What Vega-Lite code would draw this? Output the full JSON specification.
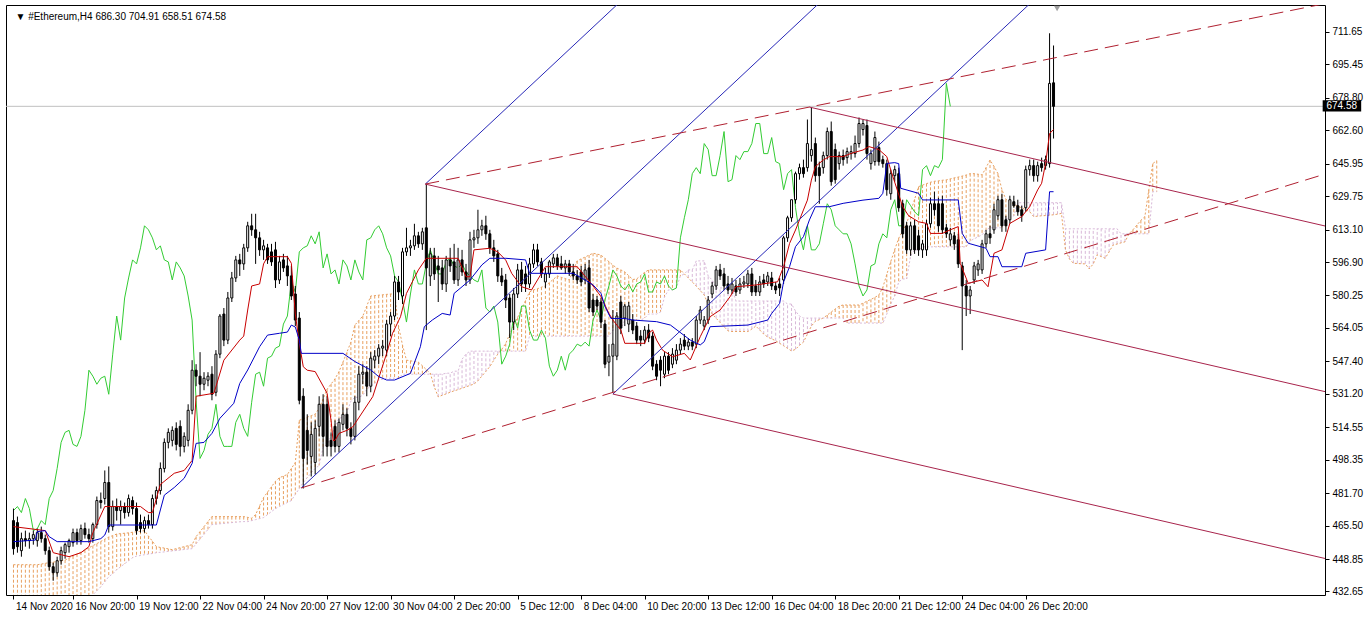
{
"$schema": "https://vega.github.io/schema/vega-lite/v6.json",
"width": 1319, "height": 590, "autosize": "none",
"padding": {"left": 6, "top": 5, "right": 45, "bottom": 27},
"background": "white",
"config": {"view": {"stroke": "#000000", "strokeWidth": 1}, "font": "Liberation Sans",
  "axis": {"labelFont": "Liberation Sans", "labelFontSize": 10, "labelColor": "#000000", "tickColor": "#000000", "domain": false, "grid": false}},
"resolve": {"axis": {"x": "independent", "y": "independent"}},
"datasets": {
"candles": [
{"i":0,"o":468,"h":474,"l":451,"c":454},{"i":1,"o":467,"h":470,"l":452,"c":455},{"i":2,"o":453,"h":462,"l":450,"c":459},{"i":3,"o":459,"h":463,"l":455,"c":458},{"i":4,"o":458,"h":462,"l":454,"c":459},{"i":5,"o":459,"h":463,"l":456,"c":461},{"i":6,"o":458,"h":464,"l":455,"c":462},{"i":7,"o":462,"h":465,"l":457,"c":459},{"i":8,"o":459,"h":461,"l":451,"c":453},{"i":9,"o":453,"h":455,"l":443,"c":445},
{"i":10,"o":445,"h":447,"l":438,"c":442},{"i":11,"o":442,"h":450,"l":440,"c":448},{"i":12,"o":448,"h":455,"l":446,"c":453},{"i":13,"o":452,"h":457,"l":449,"c":456},{"i":14,"o":455,"h":459,"l":452,"c":458},{"i":15,"o":457,"h":464,"l":455,"c":462},{"i":16,"o":462,"h":464,"l":456,"c":458},{"i":17,"o":458,"h":466,"l":456,"c":464},{"i":18,"o":464,"h":467,"l":459,"c":461},{"i":19,"o":461,"h":464,"l":457,"c":459},
{"i":20,"o":459,"h":467,"l":457,"c":466},{"i":21,"o":466,"h":480,"l":464,"c":478},{"i":22,"o":478,"h":482,"l":474,"c":477},{"i":23,"o":479,"h":493,"l":476,"c":487},{"i":24,"o":487,"h":495,"l":462,"c":465},{"i":25,"o":465,"h":478,"l":463,"c":475},{"i":26,"o":475,"h":479,"l":468,"c":473},{"i":27,"o":473,"h":478,"l":466,"c":475},{"i":28,"o":475,"h":477,"l":469,"c":472},{"i":29,"o":472,"h":481,"l":470,"c":479},
{"i":30,"o":478,"h":480,"l":471,"c":474},{"i":31,"o":474,"h":477,"l":461,"c":463},{"i":32,"o":467,"h":471,"l":462,"c":464},{"i":33,"o":464,"h":470,"l":462,"c":468},{"i":34,"o":468,"h":471,"l":464,"c":466},{"i":35,"o":466,"h":481,"l":464,"c":479},{"i":36,"o":479,"h":485,"l":476,"c":483},{"i":37,"o":483,"h":497,"l":481,"c":494},{"i":38,"o":494,"h":509,"l":492,"c":507},{"i":39,"o":507,"h":514,"l":504,"c":512},
{"i":40,"o":508,"h":515,"l":505,"c":513},{"i":41,"o":514,"h":517,"l":503,"c":506},{"i":42,"o":515,"h":518,"l":500,"c":505},{"i":43,"o":505,"h":512,"l":502,"c":510},{"i":44,"o":508,"h":526,"l":505,"c":523},{"i":45,"o":523,"h":548,"l":521,"c":543},{"i":46,"o":543,"h":546,"l":535,"c":540},{"i":47,"o":540,"h":552,"l":530,"c":536},{"i":48,"o":536,"h":542,"l":533,"c":539},{"i":49,"o":538,"h":542,"l":535,"c":540},
{"i":50,"o":541,"h":545,"l":528,"c":531},{"i":51,"o":532,"h":553,"l":530,"c":551},{"i":52,"o":551,"h":571,"l":549,"c":570},{"i":53,"o":571,"h":574,"l":555,"c":558},{"i":54,"o":558,"h":582,"l":556,"c":579},{"i":55,"o":579,"h":592,"l":577,"c":589},{"i":56,"o":589,"h":600,"l":587,"c":598},{"i":57,"o":598,"h":601,"l":590,"c":596},{"i":58,"o":596,"h":606,"l":593,"c":604},{"i":59,"o":604,"h":617,"l":602,"c":615},
{"i":60,"o":615,"h":621,"l":610,"c":613},{"i":61,"o":613,"h":621,"l":596,"c":609},{"i":62,"o":609,"h":612,"l":600,"c":603},{"i":63,"o":603,"h":608,"l":598,"c":605},{"i":64,"o":604,"h":606,"l":596,"c":598},{"i":65,"o":602,"h":606,"l":595,"c":597},{"i":66,"o":603,"h":607,"l":584,"c":588},{"i":67,"o":588,"h":600,"l":586,"c":597},{"i":68,"o":598,"h":601,"l":592,"c":594},{"i":69,"o":595,"h":600,"l":585,"c":590},
{"i":70,"o":590,"h":595,"l":578,"c":580},{"i":71,"o":581,"h":585,"l":565,"c":568},{"i":72,"o":569,"h":572,"l":526,"c":528},{"i":73,"o":530,"h":534,"l":484,"c":499},{"i":74,"o":513,"h":521,"l":496,"c":503},{"i":75,"o":500,"h":517,"l":490,"c":511},{"i":76,"o":497,"h":518,"l":491,"c":514},{"i":77,"o":515,"h":530,"l":510,"c":526},{"i":78,"o":526,"h":531,"l":500,"c":510},{"i":79,"o":526,"h":530,"l":500,"c":505},
{"i":80,"o":508,"h":512,"l":500,"c":505},{"i":81,"o":515,"h":518,"l":502,"c":505},{"i":82,"o":505,"h":519,"l":502,"c":517},{"i":83,"o":516,"h":526,"l":513,"c":521},{"i":84,"o":521,"h":524,"l":510,"c":514},{"i":85,"o":514,"h":517,"l":506,"c":510},{"i":86,"o":510,"h":530,"l":508,"c":527},{"i":87,"o":527,"h":545,"l":523,"c":541},{"i":88,"o":541,"h":546,"l":536,"c":542},{"i":89,"o":542,"h":545,"l":530,"c":535},
{"i":90,"o":535,"h":552,"l":532,"c":549},{"i":91,"o":548,"h":553,"l":544,"c":550},{"i":92,"o":550,"h":556,"l":546,"c":554},{"i":93,"o":554,"h":558,"l":550,"c":555},{"i":94,"o":553,"h":568,"l":550,"c":566},{"i":95,"o":566,"h":572,"l":560,"c":570},{"i":96,"o":570,"h":590,"l":568,"c":587},{"i":97,"o":587,"h":590,"l":578,"c":582},{"i":98,"o":580,"h":604,"l":576,"c":602},{"i":99,"o":602,"h":614,"l":600,"c":604},
{"i":100,"o":604,"h":608,"l":600,"c":605},{"i":101,"o":605,"h":616,"l":603,"c":610},{"i":102,"o":610,"h":612,"l":604,"c":606},{"i":103,"o":606,"h":614,"l":603,"c":612},{"i":104,"o":614,"h":636,"l":563,"c":594},{"i":105,"o":590,"h":604,"l":585,"c":601},{"i":106,"o":600,"h":604,"l":588,"c":591},{"i":107,"o":595,"h":600,"l":577,"c":593},{"i":108,"o":594,"h":598,"l":583,"c":586},{"i":109,"o":586,"h":600,"l":582,"c":598},
{"i":110,"o":598,"h":604,"l":592,"c":595},{"i":111,"o":597,"h":606,"l":586,"c":588},{"i":112,"o":588,"h":604,"l":585,"c":598},{"i":113,"o":598,"h":603,"l":590,"c":592},{"i":114,"o":592,"h":596,"l":585,"c":588},{"i":115,"o":588,"h":612,"l":586,"c":608},{"i":116,"o":608,"h":613,"l":604,"c":609},{"i":117,"o":609,"h":623,"l":606,"c":613},{"i":118,"o":613,"h":618,"l":610,"c":615},{"i":119,"o":615,"h":620,"l":608,"c":611},
{"i":120,"o":611,"h":613,"l":601,"c":604},{"i":121,"o":604,"h":608,"l":597,"c":600},{"i":122,"o":601,"h":603,"l":587,"c":590},{"i":123,"o":590,"h":594,"l":585,"c":587},{"i":124,"o":588,"h":591,"l":574,"c":578},{"i":125,"o":579,"h":581,"l":559,"c":567},{"i":126,"o":567,"h":584,"l":563,"c":581},{"i":127,"o":581,"h":596,"l":579,"c":593},{"i":128,"o":593,"h":597,"l":582,"c":586},{"i":129,"o":591,"h":595,"l":582,"c":586},
{"i":130,"o":586,"h":599,"l":584,"c":596},{"i":131,"o":596,"h":606,"l":594,"c":603},{"i":132,"o":603,"h":606,"l":595,"c":597},{"i":133,"o":597,"h":599,"l":589,"c":591},{"i":134,"o":587,"h":594,"l":584,"c":591},{"i":135,"o":591,"h":598,"l":589,"c":597},{"i":136,"o":596,"h":601,"l":594,"c":599},{"i":137,"o":599,"h":601,"l":593,"c":595},{"i":138,"o":596,"h":600,"l":593,"c":594},{"i":139,"o":594,"h":598,"l":591,"c":596},
{"i":140,"o":596,"h":598,"l":590,"c":592},{"i":141,"o":592,"h":596,"l":588,"c":590},{"i":142,"o":590,"h":593,"l":586,"c":588},{"i":143,"o":592,"h":595,"l":585,"c":587},{"i":144,"o":588,"h":596,"l":586,"c":593},{"i":145,"o":594,"h":598,"l":572,"c":574},{"i":146,"o":578,"h":581,"l":570,"c":572},{"i":147,"o":578,"h":580,"l":573,"c":575},{"i":148,"o":577,"h":579,"l":564,"c":567},{"i":149,"o":566,"h":568,"l":544,"c":546},
{"i":150,"o":547,"h":556,"l":540,"c":550},{"i":151,"o":550,"h":573,"l":532,"c":556},{"i":152,"o":550,"h":572,"l":548,"c":570},{"i":153,"o":577,"h":580,"l":561,"c":564},{"i":154,"o":569,"h":576,"l":565,"c":575},{"i":155,"o":566,"h":577,"l":562,"c":575},{"i":156,"o":568,"h":571,"l":561,"c":563},{"i":157,"o":565,"h":567,"l":556,"c":558},{"i":158,"o":560,"h":563,"l":555,"c":558},{"i":159,"o":558,"h":565,"l":556,"c":563},
{"i":160,"o":563,"h":566,"l":557,"c":559},{"i":161,"o":560,"h":562,"l":543,"c":545},{"i":162,"o":546,"h":548,"l":538,"c":540},{"i":163,"o":548,"h":550,"l":535,"c":543},{"i":164,"o":541,"h":552,"l":539,"c":550},{"i":165,"o":550,"h":552,"l":541,"c":543},{"i":166,"o":546,"h":554,"l":544,"c":551},{"i":167,"o":548,"h":556,"l":546,"c":553},{"i":168,"o":553,"h":559,"l":551,"c":556},{"i":169,"o":558,"h":561,"l":553,"c":555},
{"i":170,"o":555,"h":559,"l":553,"c":557},{"i":171,"o":557,"h":559,"l":553,"c":555},{"i":172,"o":556,"h":570,"l":554,"c":568},{"i":173,"o":568,"h":575,"l":566,"c":573},{"i":174,"o":565,"h":570,"l":563,"c":568},{"i":175,"o":568,"h":580,"l":566,"c":578},{"i":176,"o":581,"h":587,"l":579,"c":585},{"i":177,"o":585,"h":595,"l":583,"c":593},{"i":178,"o":593,"h":596,"l":588,"c":590},{"i":179,"o":591,"h":594,"l":583,"c":585},
{"i":180,"o":586,"h":590,"l":581,"c":583},{"i":181,"o":583,"h":589,"l":581,"c":586},{"i":182,"o":585,"h":588,"l":580,"c":582},{"i":183,"o":583,"h":589,"l":581,"c":586},{"i":184,"o":586,"h":590,"l":584,"c":587},{"i":185,"o":586,"h":593,"l":584,"c":591},{"i":186,"o":591,"h":594,"l":580,"c":582},{"i":187,"o":585,"h":588,"l":580,"c":582},{"i":188,"o":582,"h":590,"l":580,"c":587},{"i":189,"o":588,"h":591,"l":584,"c":586},
{"i":190,"o":587,"h":592,"l":585,"c":590},{"i":191,"o":589,"h":592,"l":583,"c":585},{"i":192,"o":585,"h":587,"l":581,"c":583},{"i":193,"o":586,"h":589,"l":580,"c":584},{"i":194,"o":588,"h":610,"l":586,"c":609},{"i":195,"o":609,"h":620,"l":607,"c":619},{"i":196,"o":619,"h":628,"l":617,"c":628},{"i":197,"o":628,"h":642,"l":626,"c":641},{"i":198,"o":641,"h":646,"l":638,"c":644},{"i":199,"o":644,"h":648,"l":639,"c":641},
{"i":200,"o":644,"h":668,"l":642,"c":656},{"i":201,"o":650,"h":674,"l":647,"c":653},{"i":202,"o":656,"h":659,"l":637,"c":640},{"i":203,"o":644,"h":647,"l":626,"c":640},{"i":204,"o":644,"h":652,"l":641,"c":650},{"i":205,"o":650,"h":664,"l":648,"c":662},{"i":206,"o":662,"h":667,"l":635,"c":637},{"i":207,"o":653,"h":656,"l":636,"c":638},{"i":208,"o":646,"h":652,"l":643,"c":650},{"i":209,"o":650,"h":653,"l":645,"c":648},
{"i":210,"o":649,"h":654,"l":646,"c":652},{"i":211,"o":651,"h":655,"l":648,"c":652},{"i":212,"o":651,"h":660,"l":649,"c":656},{"i":213,"o":656,"h":669,"l":654,"c":666},{"i":214,"o":663,"h":668,"l":660,"c":666},{"i":215,"o":665,"h":668,"l":648,"c":651},{"i":216,"o":646,"h":653,"l":643,"c":651},{"i":217,"o":647,"h":662,"l":645,"c":659},{"i":218,"o":654,"h":657,"l":645,"c":647},{"i":219,"o":648,"h":650,"l":644,"c":646},
{"i":220,"o":646,"h":648,"l":630,"c":633},{"i":221,"o":631,"h":643,"l":628,"c":641},{"i":222,"o":640,"h":645,"l":637,"c":643},{"i":223,"o":641,"h":644,"l":622,"c":624},{"i":224,"o":626,"h":628,"l":609,"c":611},{"i":225,"o":615,"h":617,"l":601,"c":603},{"i":226,"o":603,"h":617,"l":600,"c":615},{"i":227,"o":615,"h":618,"l":601,"c":603},{"i":228,"o":610,"h":613,"l":600,"c":603},{"i":229,"o":603,"h":608,"l":599,"c":606},
{"i":230,"o":603,"h":618,"l":600,"c":616},{"i":231,"o":616,"h":629,"l":614,"c":626},{"i":232,"o":626,"h":632,"l":620,"c":623},{"i":233,"o":626,"h":629,"l":612,"c":615},{"i":234,"o":626,"h":630,"l":611,"c":613},{"i":235,"o":614,"h":616,"l":609,"c":611},{"i":236,"o":608,"h":614,"l":605,"c":611},{"i":237,"o":610,"h":612,"l":603,"c":606},{"i":238,"o":608,"h":611,"l":594,"c":596},{"i":239,"o":595,"h":597,"l":553,"c":585},
{"i":240,"o":585,"h":588,"l":570,"c":580},{"i":241,"o":580,"h":585,"l":571,"c":583},{"i":242,"o":588,"h":597,"l":586,"c":595},{"i":243,"o":593,"h":598,"l":590,"c":596},{"i":244,"o":593,"h":608,"l":591,"c":606},{"i":245,"o":606,"h":613,"l":604,"c":611},{"i":246,"o":611,"h":615,"l":606,"c":609},{"i":247,"o":613,"h":626,"l":611,"c":623},{"i":248,"o":620,"h":630,"l":618,"c":628},{"i":249,"o":628,"h":631,"l":612,"c":615},
{"i":250,"o":618,"h":620,"l":612,"c":615},{"i":251,"o":618,"h":630,"l":616,"c":628},{"i":252,"o":627,"h":630,"l":624,"c":625},{"i":253,"o":625,"h":628,"l":620,"c":622},{"i":254,"o":623,"h":625,"l":617,"c":620},{"i":255,"o":624,"h":645,"l":622,"c":643},{"i":256,"o":643,"h":648,"l":640,"c":645},{"i":257,"o":645,"h":648,"l":637,"c":640},{"i":258,"o":640,"h":647,"l":637,"c":645},{"i":259,"o":646,"h":649,"l":642,"c":644},
{"i":260,"o":645,"h":650,"l":643,"c":648},{"i":261,"o":646,"h":711,"l":644,"c":686},{"i":262,"o":686.3,"h":704.91,"l":658.51,"c":674.58}
],
"cloud": [
{"i":0,"a":446,"b":428},{"i":1,"a":446,"b":428},{"i":2,"a":446,"b":428},{"i":3,"a":446,"b":428},{"i":4,"a":446,"b":428},{"i":5,"a":446,"b":428},{"i":6,"a":446,"b":428},{"i":7,"a":446.3,"b":428},{"i":8,"a":446.7,"b":428},{"i":9,"a":447,"b":428},
{"i":10,"a":447.3,"b":428},{"i":11,"a":447.6,"b":428},{"i":12,"a":448,"b":428},{"i":13,"a":448.3,"b":428},{"i":14,"a":449.3,"b":428},{"i":15,"a":450.3,"b":428},{"i":16,"a":451.3,"b":428},{"i":17,"a":452.3,"b":428},{"i":18,"a":453.3,"b":428},{"i":19,"a":454.4,"b":428},
{"i":20,"a":455.5,"b":431},{"i":21,"a":456.5,"b":433},{"i":22,"a":457.6,"b":435},{"i":23,"a":458.7,"b":437.5},{"i":24,"a":459.8,"b":440},{"i":25,"a":460.5,"b":441.5},{"i":26,"a":461.3,"b":443.5},{"i":27,"a":461.5,"b":445},{"i":28,"a":461.7,"b":446.5},{"i":29,"a":461.9,"b":448},
{"i":30,"a":462.2,"b":449.5},{"i":31,"a":462.4,"b":450.3},{"i":32,"a":462.7,"b":450.6},{"i":33,"a":463,"b":451},{"i":34,"a":460.3,"b":451.3},{"i":35,"a":457.7,"b":451.6},{"i":36,"a":455,"b":452},{"i":37,"a":454.6,"b":452.2},{"i":38,"a":454.3,"b":452.4},{"i":39,"a":453.9,"b":452.7},
{"i":40,"a":453.5,"b":452.9},{"i":41,"a":454,"b":453.1},{"i":42,"a":454.5,"b":453.3},{"i":43,"a":455,"b":453.6},{"i":44,"a":455.5,"b":453.8},{"i":45,"a":456,"b":454},{"i":46,"a":460,"b":456.4},{"i":47,"a":462.5,"b":458.8},{"i":48,"a":465,"b":461.2},{"i":49,"a":467.5,"b":463.6},
{"i":50,"a":470,"b":466},{"i":51,"a":470,"b":466.2},{"i":52,"a":470,"b":466.4},{"i":53,"a":470,"b":466.6},{"i":54,"a":470,"b":466.8},{"i":55,"a":470,"b":467},{"i":56,"a":470,"b":467.2},{"i":57,"a":470,"b":467.4},{"i":58,"a":470,"b":467.5},{"i":59,"a":469.6,"b":467.5},
{"i":60,"a":469.2,"b":468},{"i":61,"a":471,"b":468.5},{"i":62,"a":475.3,"b":469},{"i":63,"a":479.5,"b":469.5},{"i":64,"a":482.2,"b":471},{"i":65,"a":484.9,"b":472.5},{"i":66,"a":487.6,"b":474},{"i":67,"a":489.4,"b":475},{"i":68,"a":490.2,"b":476},{"i":69,"a":491,"b":477},
{"i":70,"a":494,"b":478},{"i":71,"a":497,"b":481},{"i":72,"a":518,"b":484},{"i":73,"a":518.8,"b":487},{"i":74,"a":519.6,"b":489.4},{"i":75,"a":520.3,"b":491.8},{"i":76,"a":521.1,"b":494},{"i":77,"a":523.9,"b":495.5},{"i":78,"a":528.7,"b":504.5},{"i":79,"a":533.5,"b":506},
{"i":80,"a":536.1,"b":510},{"i":81,"a":538.7,"b":515},{"i":82,"a":542.3,"b":519},{"i":83,"a":547,"b":519.5},{"i":84,"a":552,"b":522},{"i":85,"a":557,"b":527.5},{"i":86,"a":565.5,"b":529.5},{"i":87,"a":567.8,"b":529.5},{"i":88,"a":570,"b":530.5},{"i":89,"a":575,"b":533.5},
{"i":90,"a":580,"b":535},{"i":91,"a":580.2,"b":536.5},{"i":92,"a":580.4,"b":538},{"i":93,"a":580.6,"b":538.5},{"i":94,"a":580.8,"b":539},{"i":95,"a":581,"b":539},{"i":96,"a":581,"b":539},{"i":97,"a":565,"b":539},{"i":98,"a":555.5,"b":541},{"i":99,"a":548,"b":541},
{"i":100,"a":547.7,"b":541},{"i":101,"a":547.3,"b":541},{"i":102,"a":547,"b":541},{"i":103,"a":545.2,"b":541},{"i":104,"a":543.3,"b":541},{"i":105,"a":541.5,"b":541},{"i":106,"a":534.7,"b":541},{"i":107,"a":529.7,"b":541},{"i":108,"a":530.5,"b":541},{"i":109,"a":531.2,"b":541.5},
{"i":110,"a":532,"b":541.5},{"i":111,"a":532.7,"b":542.5},{"i":112,"a":533.3,"b":542.5},{"i":113,"a":534,"b":548.5},{"i":114,"a":534.7,"b":551},{"i":115,"a":535.4,"b":552.5},{"i":116,"a":536.1,"b":552.5},{"i":117,"a":537.7,"b":552.5},{"i":118,"a":540.1,"b":552.5},{"i":119,"a":542.4,"b":552.5},
{"i":120,"a":544.8,"b":552.5},{"i":121,"a":548,"b":552.5},{"i":122,"a":551,"b":552.5},{"i":123,"a":553.4,"b":552.5},{"i":124,"a":556.3,"b":552.5},{"i":125,"a":561,"b":552.5},{"i":126,"a":565.2,"b":552.5},{"i":127,"a":569.3,"b":552.5},{"i":128,"a":573.5,"b":552.5},{"i":129,"a":577.8,"b":552.5},
{"i":130,"a":582,"b":560},{"i":131,"a":583,"b":560},{"i":132,"a":583.6,"b":560},{"i":133,"a":584.4,"b":560},{"i":134,"a":585,"b":560},{"i":135,"a":586.7,"b":560},{"i":136,"a":588.3,"b":560},{"i":137,"a":590,"b":560},{"i":138,"a":589.3,"b":560},{"i":139,"a":588.7,"b":560},
{"i":140,"a":588,"b":560},{"i":141,"a":592.8,"b":560},{"i":142,"a":597.5,"b":560},{"i":143,"a":598.5,"b":560},{"i":144,"a":599.4,"b":560},{"i":145,"a":600.4,"b":560},{"i":146,"a":601.3,"b":560},{"i":147,"a":600.9,"b":560},{"i":148,"a":600.4,"b":560},{"i":149,"a":598.7,"b":560},
{"i":150,"a":597.1,"b":560},{"i":151,"a":595.4,"b":563},{"i":152,"a":593.9,"b":563},{"i":153,"a":593,"b":563.5},{"i":154,"a":592,"b":568},{"i":155,"a":590.1,"b":568},{"i":156,"a":588.2,"b":568},{"i":157,"a":588.5,"b":568},{"i":158,"a":590.2,"b":568},{"i":159,"a":591.8,"b":569},
{"i":160,"a":593,"b":571},{"i":161,"a":593,"b":571},{"i":162,"a":593,"b":571},{"i":163,"a":593,"b":572},{"i":164,"a":593,"b":579.5},{"i":165,"a":593,"b":583},{"i":166,"a":593,"b":583},{"i":167,"a":593,"b":584},{"i":168,"a":593,"b":590},{"i":169,"a":591,"b":591},
{"i":170,"a":589,"b":593},{"i":171,"a":587,"b":593},{"i":172,"a":584.9,"b":597.5},{"i":173,"a":582.7,"b":597.5},{"i":174,"a":580.5,"b":597.5},{"i":175,"a":575.8,"b":590},{"i":176,"a":571,"b":588},{"i":177,"a":568.9,"b":584},{"i":178,"a":566.8,"b":584},{"i":179,"a":564.7,"b":584},
{"i":180,"a":562.6,"b":584},{"i":181,"a":562.3,"b":584},{"i":182,"a":562.3,"b":577.5},{"i":183,"a":562.3,"b":577.5},{"i":184,"a":562.3,"b":577.5},{"i":185,"a":562.3,"b":577.5},{"i":186,"a":563.5,"b":577.5},{"i":187,"a":565,"b":577.5},{"i":188,"a":563,"b":577.5},{"i":189,"a":561,"b":577.5},
{"i":190,"a":559.5,"b":577.5},{"i":191,"a":558.6,"b":577.5},{"i":192,"a":557.7,"b":577.5},{"i":193,"a":556.4,"b":577.5},{"i":194,"a":555.2,"b":577.5},{"i":195,"a":553.9,"b":576},{"i":196,"a":552.6,"b":576},{"i":197,"a":553.4,"b":572.5},{"i":198,"a":555.4,"b":570},{"i":199,"a":557,"b":569},
{"i":200,"a":561,"b":569},{"i":201,"a":565,"b":569},{"i":202,"a":567.4,"b":569},{"i":203,"a":568.2,"b":569},{"i":204,"a":569,"b":569},{"i":205,"a":570.5,"b":569},{"i":206,"a":572,"b":569},{"i":207,"a":573.5,"b":569},{"i":208,"a":575,"b":569},{"i":209,"a":575.5,"b":569},
{"i":210,"a":575.5,"b":566.5},{"i":211,"a":575.5,"b":566.5},{"i":212,"a":575.5,"b":566.5},{"i":213,"a":575.5,"b":566.5},{"i":214,"a":576.4,"b":566.5},{"i":215,"a":577.4,"b":566.5},{"i":216,"a":578.3,"b":566.5},{"i":217,"a":579.3,"b":566.5},{"i":218,"a":580.5,"b":566.5},{"i":219,"a":584.3,"b":566.5},
{"i":220,"a":590.8,"b":571},{"i":221,"a":597.2,"b":576},{"i":222,"a":603.2,"b":580},{"i":223,"a":608.8,"b":587},{"i":224,"a":612.5,"b":588.5},{"i":225,"a":616.3,"b":588.5},{"i":226,"a":622.1,"b":600},{"i":227,"a":628.2,"b":603},{"i":228,"a":634.5,"b":603},{"i":229,"a":635.3,"b":604.5},
{"i":230,"a":636,"b":604.5},{"i":231,"a":636.7,"b":604.5},{"i":232,"a":637.2,"b":604.5},{"i":233,"a":637.4,"b":604.5},{"i":234,"a":637.7,"b":604.5},{"i":235,"a":637.9,"b":604.5},{"i":236,"a":638.4,"b":604.5},{"i":237,"a":638.9,"b":604.5},{"i":238,"a":639.3,"b":604.5},{"i":239,"a":639.8,"b":604.5},
{"i":240,"a":640.3,"b":604.5},{"i":241,"a":641,"b":607.5},{"i":242,"a":641,"b":608.5},{"i":243,"a":640.7,"b":609.5},{"i":244,"a":640.4,"b":610.5},{"i":245,"a":644,"b":613},{"i":246,"a":647.8,"b":614},{"i":247,"a":644.6,"b":614},{"i":248,"a":641,"b":614},{"i":249,"a":633,"b":614},
{"i":250,"a":628.2,"b":618.5},{"i":251,"a":627,"b":619},{"i":252,"a":625.8,"b":620},{"i":253,"a":624.6,"b":626.5},{"i":254,"a":624,"b":626.5},{"i":255,"a":623,"b":626.5},{"i":256,"a":622,"b":626.5},{"i":257,"a":619.6,"b":626.5},{"i":258,"a":619.8,"b":626.5},{"i":259,"a":620,"b":626.5},
{"i":260,"a":620.1,"b":626.5},{"i":261,"a":620.3,"b":626.5},{"i":262,"a":620.5,"b":626.5},{"i":263,"a":620.8,"b":626.5},{"i":264,"a":621.2,"b":626.5},{"i":265,"a":603,"b":613.5},{"i":266,"a":598.5,"b":613.5},{"i":267,"a":596.3,"b":613.5},{"i":268,"a":596.2,"b":613.5},{"i":269,"a":596.1,"b":613.5},
{"i":270,"a":596,"b":613.5},{"i":271,"a":593.5,"b":613.5},{"i":272,"a":596,"b":613.5},{"i":273,"a":600.5,"b":613.5},{"i":274,"a":599.7,"b":613.5},{"i":275,"a":598.8,"b":613.5},{"i":276,"a":602,"b":613.5},{"i":277,"a":605.4,"b":613.5},{"i":278,"a":605.9,"b":613.5},{"i":279,"a":606.5,"b":611},
{"i":280,"a":607,"b":611},{"i":281,"a":611,"b":611},{"i":282,"a":613,"b":611},{"i":283,"a":615.4,"b":611},{"i":284,"a":617.7,"b":611},{"i":285,"a":619.6,"b":611},{"i":286,"a":632.8,"b":611},{"i":287,"a":646,"b":632},{"i":288,"a":647.5,"b":632}
],
"chikou": [
{"i":0,"g":473},{"i":1,"g":475},{"i":2,"g":472},{"i":3,"g":479},{"i":4,"g":474},{"i":5,"g":463},{"i":6,"g":464},{"i":7,"g":468},{"i":8,"g":466},{"i":9,"g":479},
{"i":10,"g":483},{"i":11,"g":494},{"i":12,"g":507},{"i":13,"g":512},{"i":14,"g":513},{"i":15,"g":506},{"i":16,"g":505},{"i":17,"g":510},{"i":18,"g":523},{"i":19,"g":543},
{"i":20,"g":540},{"i":21,"g":536},{"i":22,"g":539},{"i":23,"g":540},{"i":24,"g":531},{"i":25,"g":551},{"i":26,"g":570},{"i":27,"g":558},{"i":28,"g":579},{"i":29,"g":589},
{"i":30,"g":598},{"i":31,"g":596},{"i":32,"g":604},{"i":33,"g":615},{"i":34,"g":613},{"i":35,"g":609},{"i":36,"g":603},{"i":37,"g":605},{"i":38,"g":598},{"i":39,"g":597},
{"i":40,"g":588},{"i":41,"g":597},{"i":42,"g":594},{"i":43,"g":590},{"i":44,"g":580},{"i":45,"g":568},{"i":46,"g":528},{"i":47,"g":499},{"i":48,"g":503},{"i":49,"g":511},
{"i":50,"g":514},{"i":51,"g":526},{"i":52,"g":510},{"i":53,"g":505},{"i":54,"g":505},{"i":55,"g":505},{"i":56,"g":517},{"i":57,"g":521},{"i":58,"g":514},{"i":59,"g":510},
{"i":60,"g":527},{"i":61,"g":541},{"i":62,"g":542},{"i":63,"g":535},{"i":64,"g":549},{"i":65,"g":550},{"i":66,"g":554},{"i":67,"g":555},{"i":68,"g":566},{"i":69,"g":570},
{"i":70,"g":587},{"i":71,"g":582},{"i":72,"g":602},{"i":73,"g":604},{"i":74,"g":605},{"i":75,"g":610},{"i":76,"g":606},{"i":77,"g":612},{"i":78,"g":594},{"i":79,"g":601},
{"i":80,"g":591},{"i":81,"g":593},{"i":82,"g":586},{"i":83,"g":598},{"i":84,"g":595},{"i":85,"g":588},{"i":86,"g":598},{"i":87,"g":592},{"i":88,"g":588},{"i":89,"g":608},
{"i":90,"g":609},{"i":91,"g":613},{"i":92,"g":615},{"i":93,"g":611},{"i":94,"g":604},{"i":95,"g":600},{"i":96,"g":590},{"i":97,"g":587},{"i":98,"g":578},{"i":99,"g":567},
{"i":100,"g":581},{"i":101,"g":593},{"i":102,"g":586},{"i":103,"g":586},{"i":104,"g":596},{"i":105,"g":603},{"i":106,"g":597},{"i":107,"g":591},{"i":108,"g":591},{"i":109,"g":597},
{"i":110,"g":599},{"i":111,"g":595},{"i":112,"g":594},{"i":113,"g":596},{"i":114,"g":592},{"i":115,"g":590},{"i":116,"g":588},{"i":117,"g":587},{"i":118,"g":593},{"i":119,"g":574},
{"i":120,"g":572},{"i":121,"g":575},{"i":122,"g":567},{"i":123,"g":546},{"i":124,"g":550},{"i":125,"g":556},{"i":126,"g":570},{"i":127,"g":564},{"i":128,"g":575},{"i":129,"g":575},
{"i":130,"g":563},{"i":131,"g":558},{"i":132,"g":558},{"i":133,"g":563},{"i":134,"g":559},{"i":135,"g":545},{"i":136,"g":540},{"i":137,"g":543},{"i":138,"g":550},{"i":139,"g":543},
{"i":140,"g":551},{"i":141,"g":553},{"i":142,"g":556},{"i":143,"g":555},{"i":144,"g":557},{"i":145,"g":555},{"i":146,"g":568},{"i":147,"g":573},{"i":148,"g":568},{"i":149,"g":578},
{"i":150,"g":585},{"i":151,"g":593},{"i":152,"g":590},{"i":153,"g":585},{"i":154,"g":583},{"i":155,"g":586},{"i":156,"g":582},{"i":157,"g":586},{"i":158,"g":587},{"i":159,"g":591},
{"i":160,"g":582},{"i":161,"g":582},{"i":162,"g":587},{"i":163,"g":586},{"i":164,"g":590},{"i":165,"g":585},{"i":166,"g":583},{"i":167,"g":584},{"i":168,"g":609},{"i":169,"g":619},
{"i":170,"g":628},{"i":171,"g":641},{"i":172,"g":644},{"i":173,"g":641},{"i":174,"g":656},{"i":175,"g":653},{"i":176,"g":640},{"i":177,"g":640},{"i":178,"g":650},{"i":179,"g":662},
{"i":180,"g":637},{"i":181,"g":638},{"i":182,"g":650},{"i":183,"g":648},{"i":184,"g":652},{"i":185,"g":652},{"i":186,"g":656},{"i":187,"g":666},{"i":188,"g":666},{"i":189,"g":651},
{"i":190,"g":651},{"i":191,"g":659},{"i":192,"g":647},{"i":193,"g":646},{"i":194,"g":633},{"i":195,"g":641},{"i":196,"g":643},{"i":197,"g":624},{"i":198,"g":611},{"i":199,"g":603},
{"i":200,"g":615},{"i":201,"g":603},{"i":202,"g":603},{"i":203,"g":606},{"i":204,"g":616},{"i":205,"g":626},{"i":206,"g":623},{"i":207,"g":615},{"i":208,"g":613},{"i":209,"g":611},
{"i":210,"g":611},{"i":211,"g":606},{"i":212,"g":596},{"i":213,"g":585},{"i":214,"g":580},{"i":215,"g":583},{"i":216,"g":595},{"i":217,"g":596},{"i":218,"g":606},{"i":219,"g":611},
{"i":220,"g":609},{"i":221,"g":623},{"i":222,"g":628},{"i":223,"g":615},{"i":224,"g":615},{"i":225,"g":628},{"i":226,"g":625},{"i":227,"g":622},{"i":228,"g":620},{"i":229,"g":643},
{"i":230,"g":645},{"i":231,"g":640},{"i":232,"g":645},{"i":233,"g":644},{"i":234,"g":648},{"i":235,"g":686},{"i":236,"g":674.58}
],
"tenkan": [
{"i":0,"v":465},{"i":8,"v":463},{"i":10,"v":452},{"i":14,"v":450},{"i":17,"v":452},{"i":19,"v":455},{"i":20,"v":462},{"i":23,"v":475},{"i":32,"v":475},{"i":34,"v":472},{"i":35,"v":472},{"i":37,"v":486},{"i":40.5,"v":491.6},{"i":43,"v":493},{"i":45,"v":498},{"i":46,"v":530},{"i":50.5,"v":531.5},{"i":53,"v":548},{"i":57,"v":558},{"i":58,"v":560},{"i":59,"v":573},{"i":60,"v":585},{"i":62,"v":586},{"i":63,"v":596},{"i":64,"v":599.6},{"i":69,"v":599.6},{"i":70,"v":596.3},{"i":71,"v":571},{"i":72,"v":556.4},{"i":73,"v":544.7},{"i":74,"v":543},{"i":76,"v":542.3},{"i":79,"v":531.5},{"i":80,"v":518},{"i":80.5,"v":508},{"i":81,"v":508},{"i":82,"v":511.5},{"i":84,"v":513},{"i":85.5,"v":514.8},{"i":90.5,"v":529.8},{"i":94,"v":551.4},{"i":95.5,"v":561.4},{"i":97.5,"v":569.7},{"i":99,"v":581.3},{"i":102,"v":593},{"i":104,"v":598.8},{"i":112,"v":598.8},{"i":114,"v":589.6},{"i":115,"v":589.6},{"i":116,"v":603},{"i":120,"v":603.8},{"i":122,"v":602},{"i":124,"v":597.9},{"i":125.5,"v":591.3},{"i":128,"v":584.6},{"i":130.5,"v":583},{"i":134,"v":594.6},{"i":142,"v":594.6},{"i":145.5,"v":586.3},{"i":148,"v":579.7},{"i":150,"v":571.3},{"i":151,"v":568},{"i":153,"v":563},{"i":154,"v":556.4},{"i":159,"v":556.4},{"i":160,"v":561.4},{"i":161,"v":563},{"i":162,"v":558},{"i":163.5,"v":553},{"i":166,"v":549.7},{"i":169,"v":551.4},{"i":170.5,"v":548.1},{"i":173,"v":559.7},{"i":175.5,"v":569.7},{"i":178,"v":573},{"i":180.5,"v":579.6},{"i":182,"v":584.6},{"i":187,"v":585.5},{"i":192.5,"v":587.1},{"i":194,"v":594.6},{"i":195.5,"v":606.2},{"i":197,"v":612.9},{"i":199,"v":622.9},{"i":200,"v":627.8},{"i":201,"v":637.8},{"i":202,"v":644.5},{"i":204,"v":647.8},{"i":205.5,"v":649.5},{"i":209,"v":649.5},{"i":211,"v":651.1},{"i":214,"v":652.8},{"i":215.5,"v":654.5},{"i":218,"v":653},{"i":220,"v":649.5},{"i":221,"v":642.8},{"i":224,"v":624.5},{"i":225.5,"v":620},{"i":228,"v":617},{"i":230,"v":616.2},{"i":231,"v":611.2},{"i":234,"v":611.2},{"i":236,"v":613},{"i":238,"v":614.6},{"i":238.5,"v":596.3},{"i":240.5,"v":586.3},{"i":244,"v":588},{"i":245.5,"v":584.6},{"i":247,"v":601.3},{"i":249,"v":603},{"i":251,"v":616.2},{"i":254,"v":619.6},{"i":256,"v":624.5},{"i":258,"v":632.9},{"i":259,"v":636.2},{"i":260,"v":646.1},{"i":261,"v":661},{"i":262,"v":663}
],
"kijun": [
{"i":0,"v":457.5},{"i":5.5,"v":458.3},{"i":6,"v":462.5},{"i":8,"v":463},{"i":9,"v":460},{"i":11,"v":457.5},{"i":19,"v":457.5},{"i":22,"v":459},{"i":23,"v":460.8},{"i":24,"v":465.8},{"i":36,"v":465.8},{"i":37,"v":473.3},{"i":38,"v":480.7},{"i":40.5,"v":484.5},{"i":43,"v":489.1},{"i":45,"v":496.5},{"i":46,"v":506.5},{"i":48,"v":507},{"i":50,"v":511.5},{"i":52,"v":519},{"i":55.5,"v":526.5},{"i":57,"v":536.4},{"i":59,"v":543.1},{"i":62,"v":554.7},{"i":64,"v":560.5},{"i":67,"v":561.4},{"i":69,"v":562},{"i":70,"v":565.5},{"i":71,"v":564.5},{"i":72,"v":558},{"i":72.5,"v":551.4},{"i":83,"v":551.4},{"i":86,"v":547.3},{"i":90,"v":543.1},{"i":92,"v":539.8},{"i":94,"v":538.1},{"i":96,"v":538.1},{"i":100,"v":541.4},{"i":102.5,"v":554.7},{"i":103.5,"v":564.7},{"i":105.5,"v":568},{"i":108,"v":571.3},{"i":110,"v":570.5},{"i":111,"v":581.3},{"i":113,"v":584.6},{"i":115,"v":588},{"i":118,"v":595.5},{"i":120,"v":598.8},{"i":124,"v":598.8},{"i":129,"v":598},{"i":130,"v":591.3},{"i":141,"v":591.3},{"i":144,"v":588},{"i":146,"v":585.5},{"i":148,"v":581.3},{"i":149,"v":574.7},{"i":150.5,"v":568.8},{"i":154,"v":568.8},{"i":156,"v":568},{"i":162,"v":567.2},{"i":165.5,"v":565.5},{"i":170.5,"v":558},{"i":173,"v":555.6},{"i":174,"v":557.2},{"i":175.5,"v":564.7},{"i":185,"v":565.5},{"i":190,"v":568},{"i":191,"v":571.3},{"i":193,"v":576.3},{"i":194,"v":587.1},{"i":195.5,"v":594.6},{"i":197,"v":604.6},{"i":199,"v":609.6},{"i":200.5,"v":617.9},{"i":202,"v":624.5},{"i":205.5,"v":624.5},{"i":209,"v":626.2},{"i":214,"v":627.8},{"i":218,"v":628.7},{"i":219,"v":631.2},{"i":220,"v":646.1},{"i":222,"v":646.5},{"i":223,"v":646},{"i":223.5,"v":633.7},{"i":228,"v":631.2},{"i":229,"v":627.9},{"i":238,"v":627.9},{"i":239,"v":611.2},{"i":240.5,"v":606.3},{"i":245,"v":603.8},{"i":246,"v":599.6},{"i":248,"v":599.6},{"i":249,"v":594.6},{"i":254,"v":594.6},{"i":255,"v":601.3},{"i":260,"v":603},{"i":261,"v":632},{"i":262,"v":632}
],
"tools": [
{"k":"blue","i1":72.5,"p1":484.3,"i2":210.5,"p2":740},
{"k":"blue","i1":103.75,"p1":635.8,"i2":160,"p2":740},
{"k":"blue","i1":151,"p1":531.1,"i2":263.5,"p2":739.6},
{"k":"dash","i1":103.75,"p1":635.8,"i2":335,"p2":727.6},
{"k":"dash","i1":72.5,"p1":484.3,"i2":335,"p2":643.6},
{"k":"solid","i1":200.5,"p1":674.2,"i2":335,"p2":612.8},
{"k":"solid","i1":103.75,"p1":635.8,"i2":335,"p2":530.2},
{"k":"solid","i1":151,"p1":531.1,"i2":335,"p2":447.0}
],
"pricebox": [{"i1":329.8,"i2":339.5,"p1":672.0,"p2":677.6,"im":334.6,"p":674.7,"t":"674.58"}],
"caption": [{"i":0.5,"p":719.3,"t":"▼ #Ethereum,H4  686.30 704.91 658.51 674.58"}],
"shift": [{"i":262.9,"p":723.4}]
},
"layer": [
{"data":{"name":"cloud"},"mark":{"type":"rule","strokeWidth":1,"strokeDash":[3,2],"clip":true},
 "encoding":{
  "x":{"field":"i","type":"quantitative","title":null,"scale":{"domain":[-0.625,329.125],"nice":false,"zero":false},
   "axis":{"orient":"bottom","title":null,"values":[0,15,31,47,63,79,95,111,127,143,159,175,191,207,223,239,255],
    "labelExpr":"datum.value == 0 ? '14 Nov 2020' : datum.value == 15 ? '16 Nov 20:00' : datum.value == 31 ? '19 Nov 12:00' : datum.value == 47 ? '22 Nov 04:00' : datum.value == 63 ? '24 Nov 20:00' : datum.value == 79 ? '27 Nov 12:00' : datum.value == 95 ? '30 Nov 04:00' : datum.value == 111 ? '2 Dec 20:00' : datum.value == 127 ? '5 Dec 12:00' : datum.value == 143 ? '8 Dec 04:00' : datum.value == 159 ? '10 Dec 20:00' : datum.value == 175 ? '13 Dec 12:00' : datum.value == 191 ? '16 Dec 04:00' : datum.value == 207 ? '18 Dec 20:00' : datum.value == 223 ? '21 Dec 12:00' : datum.value == 239 ? '24 Dec 04:00' : '26 Dec 20:00'",
    "labelAlign":"left","labelBaseline":"top","labelOffset":2,"labelPadding":2,"tickSize":4,"labelOverlap":false,"labelFlush":false,"labelBound":false,"domain":false,"grid":false}},
  "y":{"field":"a","type":"quantitative","title":null,"scale":{"domain":[430.9,725.1],"nice":false,"zero":false},
   "axis":{"orient":"right","title":null,"values":[432.65,448.85,465.5,481.7,498.35,514.55,531.2,547.4,564.05,580.25,596.9,613.1,629.75,645.95,662.6,678.8,695.45,711.65],"format":".2f","tickSize":4,"labelPadding":3,"labelOverlap":false,"labelFlush":false,"labelBound":false,"domain":false,"grid":false}},
  "y2":{"field":"b"},
  "color":{"condition":{"test":"datum.a >= datum.b","value":"#E8A060"},"value":"#D8B8D8"}}},
{"data":{"name":"cloud"},"mark":{"type":"line","strokeWidth":1,"strokeDash":[2,2],"color":"#E8A060","clip":true},
 "encoding":{"x":{"field":"i","type":"quantitative","scale":{"domain":[-0.625,329.125],"nice":false,"zero":false},"axis":null},
  "y":{"field":"a","type":"quantitative","scale":{"domain":[430.9,725.1],"nice":false,"zero":false},"axis":null}}},
{"data":{"name":"cloud"},"mark":{"type":"line","strokeWidth":1,"strokeDash":[2,2],"color":"#D8B8D8","clip":true},
 "encoding":{"x":{"field":"i","type":"quantitative","scale":{"domain":[-0.625,329.125],"nice":false,"zero":false},"axis":null},
  "y":{"field":"b","type":"quantitative","scale":{"domain":[430.9,725.1],"nice":false,"zero":false},"axis":null}}},
{"data":{"values":[{"p":674.58}]},"mark":{"type":"rule","color":"#C0C0C0","strokeWidth":1},
 "encoding":{"y":{"field":"p","type":"quantitative","scale":{"domain":[430.9,725.1],"nice":false,"zero":false},"axis":null}}},
{"data":{"name":"chikou"},"mark":{"type":"line","strokeWidth":1,"color":"#33CC33","clip":true},
 "encoding":{"x":{"field":"i","type":"quantitative","scale":{"domain":[-0.625,329.125],"nice":false,"zero":false},"axis":null},
  "y":{"field":"g","type":"quantitative","scale":{"domain":[430.9,725.1],"nice":false,"zero":false},"axis":null}}},
{"data":{"name":"candles"},"mark":{"type":"rule","strokeWidth":1,"color":"#000000"},
 "encoding":{"x":{"field":"i","type":"quantitative","scale":{"domain":[-0.625,329.125],"nice":false,"zero":false},"axis":null},
  "y":{"field":"l","type":"quantitative","scale":{"domain":[430.9,725.1],"nice":false,"zero":false},"axis":null},
  "y2":{"field":"h"}}},
{"data":{"name":"candles"},"mark":{"type":"bar","size":2,"stroke":"#000000","strokeWidth":1,"orient":"vertical"},
 "encoding":{"x":{"field":"i","type":"quantitative","scale":{"domain":[-0.625,329.125],"nice":false,"zero":false},"axis":null},
  "y":{"field":"o","type":"quantitative","scale":{"domain":[430.9,725.1],"nice":false,"zero":false},"axis":null},
  "y2":{"field":"c"},
  "fill":{"condition":{"test":"datum.c >= datum.o","value":"#FFFFFF"},"value":"#000000"}}},
{"data":{"name":"tenkan"},"mark":{"type":"line","strokeWidth":1,"color":"#C80000"},
 "encoding":{"x":{"field":"i","type":"quantitative","scale":{"domain":[-0.625,329.125],"nice":false,"zero":false},"axis":null},
  "y":{"field":"v","type":"quantitative","scale":{"domain":[430.9,725.1],"nice":false,"zero":false},"axis":null}}},
{"data":{"name":"kijun"},"mark":{"type":"line","strokeWidth":1,"color":"#0000C8"},
 "encoding":{"x":{"field":"i","type":"quantitative","scale":{"domain":[-0.625,329.125],"nice":false,"zero":false},"axis":null},
  "y":{"field":"v","type":"quantitative","scale":{"domain":[430.9,725.1],"nice":false,"zero":false},"axis":null}}},
{"data":{"name":"tools"},"transform":[{"filter":"datum.k == 'blue'"}],"mark":{"type":"rule","strokeWidth":1,"color":"#2828B8","clip":true},
 "encoding":{"x":{"field":"i1","type":"quantitative","scale":{"domain":[-0.625,329.125],"nice":false,"zero":false},"axis":null},
  "y":{"field":"p1","type":"quantitative","scale":{"domain":[430.9,725.1],"nice":false,"zero":false},"axis":null},
  "x2":{"field":"i2"},"y2":{"field":"p2"}}},
{"data":{"name":"tools"},"transform":[{"filter":"datum.k == 'solid'"}],"mark":{"type":"rule","strokeWidth":1,"color":"#A8244C","clip":true},
 "encoding":{"x":{"field":"i1","type":"quantitative","scale":{"domain":[-0.625,329.125],"nice":false,"zero":false},"axis":null},
  "y":{"field":"p1","type":"quantitative","scale":{"domain":[430.9,725.1],"nice":false,"zero":false},"axis":null},
  "x2":{"field":"i2"},"y2":{"field":"p2"}}},
{"data":{"name":"tools"},"transform":[{"filter":"datum.k == 'dash'"}],"mark":{"type":"rule","strokeWidth":1,"color":"#B02030","strokeDash":[14,7],"clip":true},
 "encoding":{"x":{"field":"i1","type":"quantitative","scale":{"domain":[-0.625,329.125],"nice":false,"zero":false},"axis":null},
  "y":{"field":"p1","type":"quantitative","scale":{"domain":[430.9,725.1],"nice":false,"zero":false},"axis":null},
  "x2":{"field":"i2"},"y2":{"field":"p2"}}},
{"data":{"name":"pricebox"},"mark":{"type":"rect","color":"#000000","clip":false},
 "encoding":{"x":{"field":"i1","type":"quantitative","scale":{"domain":[-0.625,329.125],"nice":false,"zero":false},"axis":null},
  "x2":{"field":"i2"},
  "y":{"field":"p1","type":"quantitative","scale":{"domain":[430.9,725.1],"nice":false,"zero":false},"axis":null},
  "y2":{"field":"p2"}}},
{"data":{"name":"pricebox"},"mark":{"type":"text","color":"#FFFFFF","font":"Liberation Sans","fontSize":10,"align":"center","baseline":"middle","clip":false},
 "encoding":{"x":{"field":"im","type":"quantitative","scale":{"domain":[-0.625,329.125],"nice":false,"zero":false},"axis":null},
  "y":{"field":"p","type":"quantitative","scale":{"domain":[430.9,725.1],"nice":false,"zero":false},"axis":null},
  "text":{"field":"t"}}},
{"data":{"name":"caption"},"mark":{"type":"text","color":"#000000","font":"Liberation Sans","fontSize":10,"align":"left","baseline":"middle"},
 "encoding":{"x":{"field":"i","type":"quantitative","scale":{"domain":[-0.625,329.125],"nice":false,"zero":false},"axis":null},
  "y":{"field":"p","type":"quantitative","scale":{"domain":[430.9,725.1],"nice":false,"zero":false},"axis":null},
  "text":{"field":"t"}}},
{"data":{"name":"shift"},"mark":{"type":"point","shape":"triangle-down","filled":true,"color":"#A0A0A0","size":40,"opacity":1},
 "encoding":{"x":{"field":"i","type":"quantitative","scale":{"domain":[-0.625,329.125],"nice":false,"zero":false},"axis":null},
  "y":{"field":"p","type":"quantitative","scale":{"domain":[430.9,725.1],"nice":false,"zero":false},"axis":null}}}
]
}
